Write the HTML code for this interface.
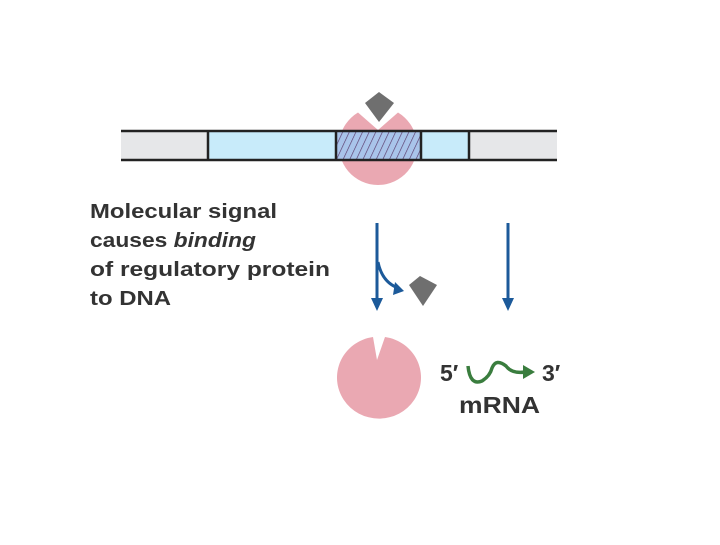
<!DOCTYPE html>
<html><head><style>html,body{margin:0;padding:0;background:#fff;}</style></head>
<body>
<svg width="720" height="540" xmlns="http://www.w3.org/2000/svg" font-family="Liberation Sans, sans-serif">
<defs>
<pattern id="h" patternUnits="userSpaceOnUse" width="6" height="6" patternTransform="rotate(25)">
<rect width="6" height="6" fill="#a9c4ea"/><line x1="0" y1="0" x2="0" y2="6" stroke="#5a3a6a" stroke-width="1.3"/>
</pattern>
</defs>
<!-- top protein -->
<path d="M378,130 L358,112.5 A39,39 0 1 0 398,112.5 Z" fill="#eaa8b2"/>
<polygon points="379,92 394,103 379,122 365,103" fill="#6f6f6f"/>
<!-- DNA -->
<rect x="121" y="131" width="87" height="29" fill="#e6e7e9"/>
<rect x="208" y="131" width="128" height="29" fill="#c8ebfa"/>
<rect x="336" y="131" width="85" height="29" fill="url(#h)"/>
<rect x="421" y="131" width="48" height="29" fill="#c8ebfa"/>
<rect x="469" y="131" width="88" height="29" fill="#e6e7e9"/>
<line x1="121" y1="131" x2="557" y2="131" stroke="#222" stroke-width="2.5"/>
<line x1="121" y1="160" x2="557" y2="160" stroke="#222" stroke-width="2.5"/>
<g stroke="#222" stroke-width="2.5"><line x1="208" y1="131" x2="208" y2="160"/><line x1="336" y1="131" x2="336" y2="160"/><line x1="421" y1="131" x2="421" y2="160"/><line x1="469" y1="131" x2="469" y2="160"/></g>
<!-- text -->
<g font-weight="bold" font-size="20" fill="#333">
<text x="90" y="218" textLength="187" lengthAdjust="spacingAndGlyphs">Molecular signal</text>
<text x="90" y="247" textLength="166" lengthAdjust="spacingAndGlyphs">causes <tspan font-style="italic">binding</tspan></text>
<text x="90" y="276" textLength="240" lengthAdjust="spacingAndGlyphs">of regulatory protein</text>
<text x="90" y="305" textLength="81" lengthAdjust="spacingAndGlyphs">to DNA</text>
</g>
<!-- arrows -->
<g stroke="#1c5a9a" stroke-width="3" fill="none">
<line x1="377" y1="223" x2="377" y2="300"/>
<line x1="508" y1="223" x2="508" y2="300"/>
<path d="M378,262 Q382,282 398,288"/>
</g>
<g fill="#1c5a9a">
<polygon points="371,298 383,298 377,311"/>
<polygon points="502,298 514,298 508,311"/>
<polygon points="395,282 404,291 393,295"/>
</g>
<polygon points="420,276 437,285 423,306 409,285" fill="#6f6f6f"/>
<!-- bottom protein -->
<path d="M377,360 L373,337 A42,41 0 1 0 385,337 Z" fill="#eaa8b2"/>
<!-- mRNA -->
<g font-weight="bold" font-size="23" fill="#333">
<text x="440" y="381">5′</text>
<text x="542" y="381">3′</text>
<text x="459" y="413" textLength="81" lengthAdjust="spacingAndGlyphs">mRNA</text>
</g>
<path d="M468,366 Q470,386 482,381 Q490,376 492,368 Q496,358 506,366 Q512,374 525,372" stroke="#3a7d3e" stroke-width="3.5" fill="none"/>
<polygon points="523,365 535,372 523,379" fill="#3a7d3e"/>
</svg>
</body></html>
